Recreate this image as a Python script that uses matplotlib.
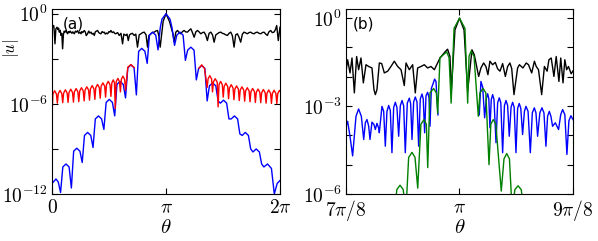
import numpy as np
import matplotlib
matplotlib.use("Agg")
import matplotlib.pyplot as plt

plt.rcParams["mathtext.fontset"] = "cm"

# ---- panel (a): theta in units of pi, values as log10|u| ----
blue_a_x = [0.000, 0.035, 0.055, 0.075, 0.095, 0.1225, 0.150, 0.170, 0.190, 0.2175, 0.245, 0.265,
            0.285, 0.3125, 0.340, 0.360, 0.380, 0.4075, 0.435, 0.455, 0.475, 0.5025, 0.530, 0.550,
            0.570, 0.5975, 0.625, 0.645, 0.665, 0.6925, 0.720, 0.740, 0.760, 0.7875, 0.815, 0.835,
            0.855, 0.8825, 0.910, 0.930, 0.950, 0.965, 1.000, 1.035, 1.052, 1.075,
            1.095, 1.1225, 1.150, 1.170, 1.190, 1.218, 1.246, 1.266, 1.286, 1.3135, 1.341, 1.361,
            1.381, 1.409, 1.437, 1.457, 1.477, 1.5045, 1.532, 1.552, 1.572, 1.600, 1.628, 1.648,
            1.668, 1.6955, 1.723, 1.743, 1.763, 1.791, 1.819, 1.839, 1.859, 1.890, 1.925, 1.950,
            1.975, 2.000]
blue_a_log = [-11.3, -11.0, -11.2, -11.9, -10.2, -10.0, -10.2, -11.6, -9.15, -8.95, -9.15, -9.9,
              -8.1, -7.9, -8.1, -8.9, -7.0, -6.8, -7.0, -7.7, -5.9, -5.7, -5.9, -6.8,
              -4.7, -4.5, -4.7, -5.6, -3.6, -3.4, -3.6, -5.4, -2.5, -2.3, -2.5, -3.3,
              -1.42, -1.22, -1.42, -2.4, -0.9, -0.35, 0.0, -0.35, -0.9, -2.1,
              -1.42, -1.22, -1.42, -3.1, -2.42, -2.22, -2.42, -4.4, -3.64, -3.44, -3.64, -5.8,
              -4.8, -4.6, -4.8, -5.8, -5.95, -5.75, -5.95, -7.0, -7.0, -6.8, -7.0, -8.0,
              -8.1, -7.9, -8.1, -9.0, -9.2, -9.0, -9.2, -10.0, -10.2, -10.0, -10.3, -12.0,
              -11.3, -11.1]

red_a_left_x = [0.000, 0.008, 0.023, 0.039, 0.047,
                0.055, 0.0705, 0.086, 0.094, 0.102, 0.1175, 0.133, 0.141,
                0.149, 0.1645, 0.180, 0.188, 0.196, 0.2115, 0.227, 0.235,
                0.243, 0.2585, 0.274, 0.282, 0.290, 0.3055, 0.321, 0.329,
                0.337, 0.3525, 0.368, 0.376, 0.384, 0.3995, 0.415, 0.423,
                0.431, 0.4465, 0.462, 0.470, 0.478, 0.4935, 0.509, 0.517,
                0.525, 0.537, 0.548, 0.555, 0.563, 0.578, 0.592, 0.600,
                0.608, 0.622, 0.637, 0.645, 0.665, 0.6925, 0.720]
red_a_left_log = [-6.8, -5.35, -5.12, -5.35, -5.95,
                  -5.32, -5.10, -5.32, -5.92, -5.28, -5.06, -5.28, -5.90,
                  -5.24, -5.02, -5.24, -5.88, -5.20, -4.98, -5.20, -5.85,
                  -5.14, -4.92, -5.14, -5.80, -5.08, -4.86, -5.08, -5.75,
                  -5.00, -4.78, -5.00, -5.70, -4.92, -4.70, -4.92, -5.62,
                  -4.82, -4.60, -4.82, -5.55, -4.72, -4.50, -4.72, -5.50,
                  -4.60, -4.40, -4.60, -6.3, -4.52, -4.30, -4.52, -5.2,
                  -4.37, -4.15, -4.37, -5.1, -3.55, -3.38, -3.58]
red_a_right_x = [1.290, 1.3135, 1.338, 1.361,
                 1.369, 1.384, 1.400, 1.408, 1.416, 1.431, 1.449, 1.457,
                 1.465, 1.479, 1.494, 1.502, 1.510, 1.525, 1.541, 1.549,
                 1.557, 1.572, 1.588, 1.596, 1.604, 1.619, 1.635, 1.643,
                 1.651, 1.666, 1.682, 1.690, 1.698, 1.713, 1.729, 1.737,
                 1.745, 1.760, 1.776, 1.784, 1.792, 1.807, 1.823, 1.831,
                 1.839, 1.854, 1.870, 1.878, 1.886, 1.901, 1.917, 1.925,
                 1.933, 1.948, 1.964, 1.972, 1.980, 1.995, 2.000]
red_a_right_log = [-3.62, -3.40, -3.65, -4.9,
                   -4.34, -4.12, -4.34, -5.2, -4.54, -4.32, -4.54, -6.2,
                   -4.72, -4.50, -4.72, -5.55, -4.84, -4.62, -4.84, -5.65,
                   -4.94, -4.72, -4.94, -5.72, -5.02, -4.80, -5.02, -5.78,
                   -5.08, -4.86, -5.08, -5.82, -5.14, -4.92, -5.14, -5.86,
                   -5.19, -4.97, -5.19, -5.90, -5.23, -5.01, -5.23, -5.92,
                   -5.26, -5.04, -5.26, -5.95, -5.29, -5.07, -5.29, -5.97,
                   -5.31, -5.09, -5.31, -5.98, -5.32, -5.10, -5.15]

black_a_x = [0.000, 0.008, 0.015, 0.020, 0.026, 0.034, 0.044, 0.052, 0.058, 0.064, 0.072, 0.079,
             0.086, 0.093, 0.100, 0.107, 0.114, 0.122, 0.130, 0.137, 0.145, 0.152, 0.160, 0.166,
             0.175, 0.182, 0.190, 0.196, 0.205, 0.215, 0.225, 0.235, 0.245, 0.254, 0.262, 0.270,
             0.283, 0.293, 0.300, 0.312, 0.322, 0.332, 0.342, 0.352, 0.362, 0.371, 0.380, 0.390,
             0.400, 0.410, 0.420, 0.429, 0.440, 0.450, 0.458, 0.468, 0.478, 0.488, 0.500, 0.508,
             0.517, 0.528, 0.540, 0.550, 0.560, 0.575, 0.590, 0.605, 0.619, 0.630, 0.648, 0.658,
             0.669, 0.680, 0.692, 0.705, 0.721, 0.735, 0.750, 0.765, 0.780, 0.795, 0.809, 0.825,
             0.838, 0.850, 0.867, 0.880, 0.896, 0.910, 0.926, 0.938, 0.949, 0.975, 1.000, 1.030,
             1.060, 1.072, 1.086, 1.101, 1.115, 1.130, 1.145, 1.159, 1.172, 1.188, 1.203, 1.218,
             1.232, 1.247, 1.262, 1.276, 1.290, 1.305, 1.320, 1.334, 1.348, 1.363, 1.378, 1.393,
             1.408, 1.422, 1.437, 1.451, 1.465, 1.480, 1.495, 1.509, 1.524, 1.539, 1.553, 1.568,
             1.582, 1.597, 1.611, 1.626, 1.640, 1.655, 1.670, 1.685, 1.700, 1.714, 1.728, 1.743,
             1.757, 1.772, 1.786, 1.801, 1.816, 1.831, 1.845, 1.860, 1.875, 1.889, 1.903, 1.918,
             1.932, 1.947, 1.960, 1.971, 1.985, 2.000]
black_a_log = [-1.0, -0.80, -0.78, -1.2, -2.0, -1.0, -0.89, -1.05, -0.95, -1.22, -1.1, -1.44,
               -1.3, -2.33, -1.4, -1.15, -1.22, -1.12, -1.25, -1.33, -1.18, -1.25, -1.15, -1.22,
               -1.30, -1.20, -1.28, -1.33, -1.15, -1.22, -1.12, -1.30, -1.22, -1.33, -1.18, -1.25,
               -1.11, -1.22, -1.45, -1.33, -1.15, -1.28, -1.22, -1.35, -1.30, -1.44, -1.20, -1.15,
               -1.11, -1.25, -1.30, -1.33, -1.18, -1.25, -1.22, -1.35, -1.28, -1.33, -1.18, -1.22,
               -1.11, -1.25, -1.20, -1.30, -1.33, -1.25, -1.44, -1.30, -2.0, -1.35, -1.44, -1.35,
               -1.78, -1.40, -1.33, -1.30, -1.44, -1.35, -2.22, -1.40, -1.33, -1.25, -1.22, -1.40,
               -2.22, -1.45, -1.33, -1.25, -1.22, -1.15, -1.11, -1.5, -2.22, -0.5, 0.0, -0.5,
               -1.3, -1.89, -1.22, -1.11, -1.25, -1.33, -1.18, -1.11, -1.20, -1.22, -1.10, -1.0,
               -1.25, -1.56, -1.20, -1.11, -1.20, -1.33, -1.25, -1.22, -1.40, -1.78, -1.30, -1.22,
               -1.40, -1.89, -1.40, -1.33, -1.25, -1.22, -1.30, -1.33, -1.40, -1.44, -1.30, -1.22,
               -1.45, -2.22, -1.40, -1.33, -1.55, -1.89, -1.35, -1.22, -1.28, -1.33, -1.25, -1.22,
               -1.30, -1.33, -1.25, -1.22, -1.30, -1.33, -1.25, -1.22, -1.35, -1.44, -1.20, -1.11,
               -1.25, -1.22, -1.05, -0.78, -1.78, -0.89]

# ---- panel (b): theta in units of pi ----
green_b_x = [0.9285, 0.9310, 0.9345, 0.9380, 0.9410, 0.9440, 0.9477, 0.9510, 0.9540, 0.9575,
             0.9609, 0.9635, 0.9650, 0.9675, 0.9715, 0.9745, 0.9760, 0.9785, 0.9859, 0.9885,
             0.9908, 0.9940, 1.0000, 1.0060, 1.0090, 1.0105, 1.0127, 1.0160, 1.0207, 1.0225,
             1.0260, 1.0290, 1.0325, 1.0345, 1.0372, 1.0400, 1.0460, 1.0490, 1.0520, 1.0550,
             1.0580, 1.0610, 1.0645, 1.0680, 1.0710]
green_b_log = [-6.6, -5.85, -5.70, -5.85, -6.6, -4.75, -4.58, -4.75, -5.8, -3.62,
               -3.46, -3.62, -5.1, -2.55, -2.40, -2.55, -3.25, -1.35, -1.15, -1.35,
               -2.9, -0.35, 0.0, -0.35, -2.9, -1.3, -1.13, -1.3, -3.35, -2.55,
               -2.40, -2.55, -5.0, -3.62, -3.46, -3.62, -5.9, -4.8, -4.62, -4.8,
               -6.6, -5.85, -5.72, -5.85, -6.6]

blue_b_left_x = [0.8750, 0.8768, 0.8794, 0.8823, 0.8860, 0.8889, 0.8919, 0.8945, 0.8963, 0.8981,
                 0.9000, 0.9014, 0.9036, 0.9058, 0.9073, 0.9091, 0.9110, 0.9117, 0.9146, 0.9165,
                 0.9183, 0.9201, 0.9220, 0.9238, 0.9256, 0.9275, 0.9293, 0.9311, 0.9330, 0.9348,
                 0.9367, 0.9385, 0.9403, 0.9425, 0.9447, 0.9462, 0.9477, 0.9495, 0.9513, 0.9532,
                 0.9550, 0.9568, 0.9587, 0.9601, 0.9616, 0.9631, 0.9649, 0.9664, 0.9675, 0.9690,
                 0.9712, 0.9726, 0.9741, 0.9763]
blue_b_left_log = [-3.69, -3.52, -4.03, -4.70, -3.35, -3.10, -3.35, -4.14, -3.57, -3.46,
                   -3.69, -4.14, -3.55, -3.63, -3.80, -3.59, -3.75, -3.91, -3.01, -3.18,
                   -4.37, -3.18, -2.98, -3.15, -4.59, -3.05, -2.87, -3.05, -4.03, -2.99,
                   -2.81, -2.99, -4.59, -2.90, -2.73, -2.92, -4.14, -2.86, -2.69, -2.86,
                   -4.37, -2.76, -2.59, -2.76, -3.91, -2.65, -2.53, -2.70, -3.69, -2.40,
                   -2.21, -2.08, -2.16, -3.30]
blue_b_right_x = [1.0218, 1.0236, 1.0255, 1.0277, 1.0295, 1.0310, 1.0323, 1.0335, 1.0350, 1.0365,
                  1.0380, 1.0402, 1.0420, 1.0438, 1.0455, 1.0475, 1.0495, 1.0512, 1.0530, 1.0548,
                  1.0568, 1.0585, 1.0602, 1.0622, 1.0640, 1.0658, 1.0675, 1.0695, 1.0715, 1.0732,
                  1.0755, 1.0780, 1.0802, 1.0824, 1.0842, 1.0860, 1.0885, 1.0908, 1.0930, 1.0952,
                  1.0970, 1.0989, 1.1007, 1.1025, 1.1055, 1.1091, 1.1115, 1.1136, 1.1160, 1.1183,
                  1.1205, 1.1227, 1.1250]
blue_b_right_log = [-3.3, -2.16, -2.35, -3.40, -2.75, -2.58, -2.75, -3.74, -2.78, -2.61,
                    -2.78, -4.25, -2.89, -2.72, -2.89, -4.59, -2.98, -2.81, -2.98, -4.03,
                    -3.04, -2.87, -3.04, -4.59, -3.08, -2.91, -3.08, -3.97, -3.18, -3.01,
                    -3.18, -4.59, -3.23, -3.06, -3.23, -4.03, -3.23, -3.06, -3.23, -4.37,
                    -3.35, -3.18, -3.35, -3.69, -3.57, -3.80, -3.29, -3.12, -3.29, -4.65,
                    -3.50, -3.33, -3.46]

black_b_x = [0.8750, 0.8768, 0.8794, 0.8816, 0.8842, 0.8867, 0.8889, 0.8915, 0.8941, 0.8970,
             0.9000, 0.9036, 0.9058, 0.9073, 0.9091, 0.9117, 0.9143, 0.9172, 0.9209, 0.9245,
             0.9282, 0.9319, 0.9356, 0.9392, 0.9411, 0.9447, 0.9484, 0.9513, 0.9539, 0.9576,
             0.9612, 0.9649, 0.9686, 0.9723, 0.9759, 0.9785, 0.9814, 0.9844, 0.9869, 0.9895,
             0.9910, 0.9950, 1.0000, 1.0050, 1.0090, 1.0137, 1.0163, 1.0189, 1.0211, 1.0236,
             1.0266, 1.0291, 1.0313, 1.0335, 1.0365, 1.0394, 1.0420, 1.0446, 1.0475, 1.0505,
             1.0530, 1.0555, 1.0575, 1.0600, 1.0640, 1.0660, 1.0698, 1.0735, 1.0760, 1.0795,
             1.0825, 1.0845, 1.0870, 1.0905, 1.0935, 1.0965, 1.0985, 1.1010, 1.1040, 1.1065,
             1.1095, 1.1115, 1.1140, 1.1160, 1.1180, 1.1200, 1.1230, 1.1250]
black_b_log = [-1.81, -1.42, -1.87, -1.36, -2.55, -1.31, -1.76, -1.36, -2.21, -1.59,
               -1.65, -1.70, -2.44, -2.61, -2.44, -1.53, -1.55, -1.87, -1.81, -1.65,
               -1.47, -1.65, -1.76, -2.30, -1.53, -1.76, -1.59, -2.55, -1.70, -1.65,
               -1.59, -1.70, -1.65, -1.76, -1.53, -1.36, -1.25, -1.14, -1.06, -1.31,
               -2.50, -0.40, 0.0, -0.40, -2.50, -1.08, -1.25, -1.65, -1.99, -1.70,
               -1.53, -1.65, -1.93, -1.47, -1.59, -1.51, -1.73, -1.81, -1.55, -1.99,
               -1.65, -1.53, -1.72, -2.61, -1.70, -1.59, -1.70, -1.53, -1.59, -1.87,
               -1.47, -1.65, -1.76, -2.61, -1.65, -1.81, -1.42, -1.36, -1.99, -1.31,
               -2.16, -1.36, -2.21, -1.42, -1.76, -1.65, -1.90, -1.80]

tick_fs = 14
label_fs = 15

fig = plt.figure(figsize=(5.98, 2.41), dpi=100)
ax_a = fig.add_axes([52 / 598, 47 / 241, 228 / 598, 184.7 / 241])
ax_b = fig.add_axes([346 / 598, 47 / 241, 227 / 598, 184.7 / 241])

def curve(ax, xs, logs, color):
    ax.plot(np.array(xs) * np.pi, 10.0 ** np.array(logs), color=color, lw=1.0)

curve(ax_a, black_a_x, black_a_log, "k")
curve(ax_a, blue_a_x, blue_a_log, "b")
curve(ax_a, red_a_left_x, red_a_left_log, "r")
curve(ax_a, red_a_right_x, red_a_right_log, "r")

curve(ax_b, blue_b_left_x, blue_b_left_log, "b")
curve(ax_b, blue_b_right_x, blue_b_right_log, "b")
curve(ax_b, black_b_x, black_b_log, "k")
curve(ax_b, green_b_x, green_b_log, "#008000")

for ax in (ax_a, ax_b):
    ax.set_yscale("log")
    ax.minorticks_off()
    ax.tick_params(direction="in", top=True, right=True, length=4, width=0.8,
                   labelsize=tick_fs, pad=3)
    for s in ax.spines.values():
        s.set_linewidth(0.8)
    ax.set_xlabel(r"$\theta$", fontsize=label_fs)
    ax.xaxis.set_label_coords(0.5, -0.125)

ax_a.set_xlim(0, 2 * np.pi)
ax_a.set_ylim(1e-12, 2)
ax_a.set_xticks([0, np.pi, 2 * np.pi])
ax_a.set_xticklabels([r"$0$", r"$\pi$", r"$2\pi$"])
ax_a.set_yticks([1e0, 1e-3, 1e-6, 1e-9, 1e-12])
ax_a.set_yticklabels([r"$10^{0}$", "", r"$10^{-6}$", "", r"$10^{-12}$"])
ax_a.set_ylabel(r"$|u|$", fontsize=12)
ax_a.yaxis.set_label_coords(-0.135, 0.785)
ax_a.text(0.045, 0.96, "(a)", transform=ax_a.transAxes, fontsize=11, va="top", ha="left")

ax_b.set_xlim(7 * np.pi / 8, 9 * np.pi / 8)
ax_b.set_ylim(1e-6, 2)
ax_b.set_xticks([7 * np.pi / 8, np.pi, 9 * np.pi / 8])
ax_b.set_xticklabels([r"$7\pi/8$", r"$\pi$", r"$9\pi/8$"])
ax_b.set_yticks([1e0, 1e-1, 1e-2, 1e-3, 1e-4, 1e-5, 1e-6])
ax_b.set_yticklabels([r"$10^{0}$", "", "", r"$10^{-3}$", "", "", r"$10^{-6}$"])
ax_b.text(0.03, 0.96, "(b)", transform=ax_b.transAxes, fontsize=11, va="top", ha="left")

fig.savefig("out.png", dpi=100)
